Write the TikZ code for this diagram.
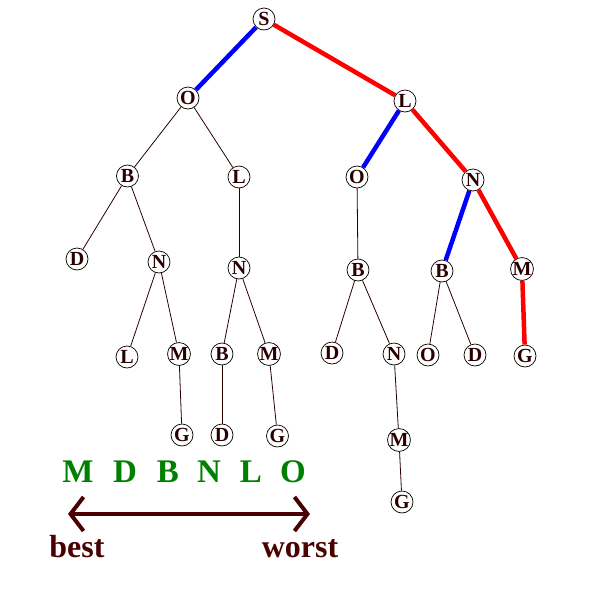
\documentclass[tikz,border=0pt]{standalone}
\usepackage{fontspec}
\setmainfont{Liberation Serif}
\usetikzlibrary{arrows.meta}
\definecolor{leafink}{RGB}{40,0,0}
\definecolor{rankgreen}{RGB}{0,128,0}
\definecolor{scalebrown}{RGB}{75,0,0}
\begin{document}
\begin{tikzpicture}[x=1pt,y=-1pt,
  tnode/.style={circle, draw, line width=0.7pt, minimum size=22pt, inner sep=0pt, text=leafink, font=\fontsize{20}{20}\selectfont\bfseries},
  tedge/.style={line width=0.8pt, leafink},
  bedge/.style={line width=4.5pt, blue},
  redge/.style={line width=4.5pt, red},
  rank/.style={anchor=base, text=rankgreen, font=\fontsize{33}{33}\selectfont\bfseries},
  scaletext/.style={anchor=base, text=scalebrown, font=\fontsize{32}{32}\selectfont\bfseries}]
\useasboundingbox (0,0) rectangle (600,600);
\node[tnode] (tid0) at (264,19){S};
\node[tnode] (tid1) at (188,98){O};
\node[tnode] (tid3) at (127.5,176){B};
\node[tnode] (tid5) at (77,259){D};
\node[tnode] (tid6) at (159,262){N};
\node[tnode] (tid7) at (127,357){L};
\node[tnode] (tid8) at (179,354){M};
\node[tnode] (tid9) at (182,435){G};
\draw[tedge](tid8) -- (tid9);
\draw[tedge](tid6) -- (tid7);
\draw[tedge](tid6) -- (tid8);
\draw[tedge](tid3) -- (tid5);
\draw[tedge](tid3) -- (tid6);
\node[tnode] (tid4) at (239,177){L};
\node[tnode] (tid10) at (239,268){N};
\node[tnode] (tid11) at (222,354){B};
\node[tnode] (tid12) at (269,354){M};
\node[tnode] (tid13) at (222,435){D};
\node[tnode] (tid14) at (277.5,436){G};
\draw[tedge](tid11) -- (tid13);
\draw[tedge](tid12) -- (tid14);
\draw[tedge](tid10) -- (tid11);
\draw[tedge](tid10) -- (tid12);
\draw[tedge](tid4) -- (tid10);
\draw[tedge](tid1) -- (tid3);
\draw[tedge](tid1) -- (tid4);
\node[tnode] (tid2) at (405,101){L};
\node[tnode] (tid15) at (357,177){O};
\node[tnode] (tid17) at (358,270){B};
\node[tnode] (tid18) at (332,353){D};
\node[tnode] (tid19) at (394,354){N};
\node[tnode] (tid20) at (399,440){M};
\node[tnode] (tid21) at (402,502){G};
\draw[tedge](tid20) -- (tid21);
\draw[tedge](tid19) -- (tid20);
\draw[tedge](tid17) -- (tid18);
\draw[tedge](tid17) -- (tid19);
\draw[tedge](tid15) -- (tid17);
\node[tnode] (tid16) at (473,180){N};
\node[tnode] (tid22) at (442,271){B};
\node[tnode] (tid23) at (522,269){M};
\node[tnode] (tid24) at (428,355){O};
\node[tnode] (tid25) at (475,355){D};
\node[tnode] (tid26) at (525,356){G};
\draw[tedge](tid22) -- (tid24);
\draw[tedge](tid22) -- (tid25);
\draw[redge](tid23) -- (tid26);
\draw[bedge](tid16) -- (tid22);
\draw[redge](tid16) -- (tid23);
\draw[bedge](tid2) -- (tid15);
\draw[redge](tid2) -- (tid16);
\draw[bedge](tid0) -- (tid1);
\draw[redge](tid0) -- (tid2);
% ranking, best to worst
\node[rank] (rk0) at (78,482){M};
\node[rank] (rk1) at (125,482){D};
\node[rank] (rk2) at (168,482){B};
\node[rank] (rk3) at (209,482){N};
\node[rank] (rk4) at (251,482){L};
\node[rank] (rk5) at (293,482){O};
\coordinate (bestend) at (68,514);
\coordinate (worstend) at (310,514);
\draw[line width=4pt, scalebrown, {Straight Barb[length=13pt,width=34pt]}-{Straight Barb[length=13pt,width=34pt]}](bestend) -- (worstend);
\node[scaletext] (best) at (77,557){best};
\node[scaletext] (worst) at (300,557){worst};
\end{tikzpicture}
\end{document}
